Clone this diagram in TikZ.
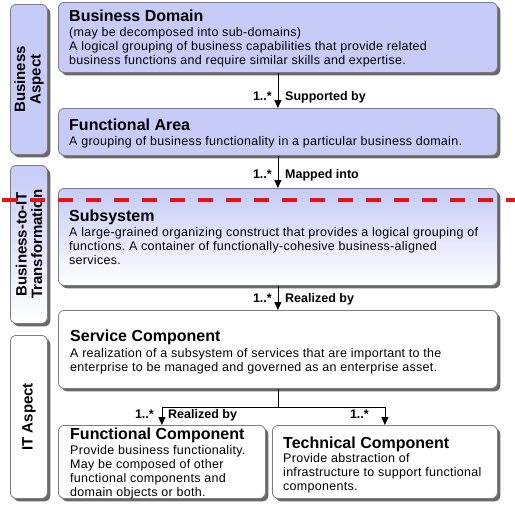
\documentclass[tikz,border=0pt]{standalone}
\usepackage{fontspec}
\setmainfont{Liberation Sans}
\newfontfamily\bodyfont[LetterSpace=2.3]{Liberation Sans}
\usetikzlibrary{shadows,arrows.meta,positioning}
\definecolor{periw}{RGB}{198,203,248}
\definecolor{edgegray}{RGB}{125,125,125}
\definecolor{shadowgray}{RGB}{105,105,105}
\definecolor{cutred}{RGB}{232,18,18}
\frenchspacing
\tikzset{ % Common looks of the blocks
	blockbox/.style={
		draw=edgegray, line width=0.8pt, rounded corners=6pt,
		anchor=north west, inner sep=0pt,
		drop shadow={shadow xshift=3pt, shadow yshift=-3pt, fill=shadowgray, opacity=1}
	},
	bluefill/.style={fill=periw},
	fadefill/.style={top color=periw, bottom color=white},
	whitefill/.style={fill=white},
	boxtitle/.style={font=\fontsize{16}{19}\selectfont\bfseries, anchor=base west, inner sep=0pt},
	boxtext/.style={font=\bodyfont\fontsize{12.5}{14}\selectfont, align=left, anchor=north west, inner sep=0pt},
	sidetext/.style={font=\fontsize{15}{15.5}\selectfont\bfseries, align=center, rotate=90},
	link/.style={line width=0.8pt, -{Triangle[width=7pt,length=8pt]}},
	mult/.style={font=\fontsize{12.5}{14}\selectfont\bfseries, anchor=base east, inner sep=0pt},
	role/.style={font=\fontsize{12.5}{14}\selectfont\bfseries, anchor=base west, inner sep=0pt},
	cutline/.style={cutred, line width=4pt, dash pattern=on 15pt off 13pt, dash phase=26pt}
}
\begin{document}
\begin{tikzpicture}[x=1pt, y=-1pt]
	\useasboundingbox (0,0) rectangle (515,506);
	% Side aspects
	\node[blockbox, bluefill, minimum width=37pt, minimum height=150pt] (bizside) at (10,4) {};
	\node[sidetext] (biztext) at (bizside.center) {Business\\Aspect};
	\node[blockbox, fadefill, minimum width=37pt, minimum height=158pt] (transside) at (10,165) {};
	\node[sidetext] (transtext) at (transside.center) {Business-to-IT\\Transformation};
	\node[blockbox, whitefill, minimum width=37pt, minimum height=163pt] (itside) at (10,335) {};
	\node[sidetext] (ittext) at (itside.center) {IT Aspect};
	% Blocks
	\node[blockbox, bluefill, minimum width=439pt, minimum height=70pt] (domain) at (58,2) {};
	\node[boxtitle] (domaintitle) at (69,21) {Business Domain};
	\node[boxtext] (domaintext) at (69,27.5) {(may be decomposed into sub-domains)\\A logical grouping of business capabilities that provide related\\business functions and require similar skills and expertise.};
	\node[blockbox, bluefill, minimum width=439pt, minimum height=47pt] (area) at (58,108) {};
	\node[boxtitle] (areatitle) at (69,130) {Functional Area};
	\node[boxtext] (areatext) at (69,136) {A grouping of business functionality in a particular business domain.};
	\node[blockbox, fadefill, minimum width=439pt, minimum height=97pt] (subsys) at (58,188) {};
	\node[boxtitle] (subsystitle) at (69,221) {Subsystem};
	\node[boxtext] (subsystext) at (69,227) {A large-grained organizing construct that provides a logical grouping of\\functions. A container of functionally-cohesive business-aligned\\services.};
	\node[blockbox, whitefill, minimum width=439pt, minimum height=78pt] (service) at (58,310) {};
	\node[boxtitle] (servicetitle) at (70,341) {Service Component};
	\node[boxtext] (servicetext) at (70,348) {A realization of a subsystem of services that are important to the\\enterprise to be managed and governed as an enterprise asset.};
	\node[blockbox, whitefill, minimum width=207pt, minimum height=73pt] (funccomp) at (58,425) {};
	\node[boxtitle] (functitle) at (70,439) {Functional Component};
	\node[boxtext] (functext) at (70,445) {Provide business functionality.\\May be composed of other\\functional components and\\domain objects or both.};
	\node[blockbox, whitefill, minimum width=225pt, minimum height=73pt] (techcomp) at (272,425) {};
	\node[boxtitle] (techtitle) at (283,448) {Technical Component};
	\node[boxtext] (techtext) at (283,453) {Provide abstraction of\\infrastructure to support functional\\components.};
	% Connectors
	\draw[link] (domain.south) -- (area.north);
	\node[mult] (m1) at (272,100) {1..*};
	\node[role] (r1) at (285,100) {Supported by};
	\draw[link] (area.south) -- (subsys.north);
	\node[mult] (m2) at (272,178) {1..*};
	\node[role] (r2) at (285,178) {Mapped into};
	\draw[link] (subsys.south) -- (service.north);
	\node[mult] (m3) at (272,302) {1..*};
	\node[role] (r3) at (285,302) {Realized by};
	\draw[line width=0.8pt] (service.south) -- ++(0,19) coordinate (fork);
	\draw[link] (fork) -| (funccomp.north);
	\draw[link] (fork) -| (techcomp.north);
	\node[mult] (m4) at (154,418) {1..*};
	\node[role] (r4) at (168,418) {Realized by};
	\node[mult] (m5) at (369,418) {1..*};
	% Cut between business and IT
	\draw[cutline] (0,200) -- (515,200);
\end{tikzpicture}
\end{document}
